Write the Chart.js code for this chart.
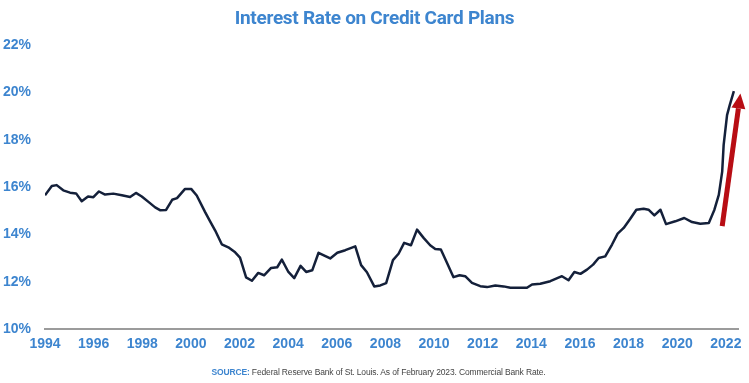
<html><head>
<meta charset="UTF-8">
<title>Interest Rate on Credit Card Plans</title>
<script src="https://cdn.jsdelivr.net/npm/chart.js"></script>
<style>
* { margin: 0; padding: 0; box-sizing: border-box; }
body { background: #fff; width: 749px; height: 383px; overflow: hidden; position: relative; font-family: 'Liberation Sans', Arial, sans-serif; }
.title {
  position: absolute; top: 6px; left: 0; width: 749px; text-align: center;
  font-family: 'Liberation Sans Narrow', 'Roboto', sans-serif;
  font-weight: bold; font-size: 19px; color: #3d85cf; letter-spacing: -0.3px;
}
.chart-box { position: absolute; left: 0; top: 0; width: 749px; height: 383px; }
.source {
  position: absolute; top: 367px; left: 4px; width: 749px; text-align: center;
  font-family: 'Liberation Sans Narrow', 'Liberation Sans', sans-serif;
  font-size: 8.5px; color: #444; letter-spacing: -0.15px;
}
.source b { color: #3d85cf; }
</style>
</head>
<body>
<div class="chart-box"><canvas id="rateChart" width="749" height="383"></canvas></div>
<div class="title">Interest Rate on Credit Card Plans</div>
<div class="source"><b>SOURCE:</b> Federal Reserve Bank of St. Louis. As of February 2023. Commercial Bank Rate.</div>

<script>
// (decimal years, percent)
const years = [1994.00,1994.28,1994.48,1994.75,1995.03,1995.28,1995.51,1995.77,1995.99,1996.22,1996.47,1996.81,1997.16,1997.50,1997.74,1997.98,1998.28,1998.53,1998.73,1998.98,1999.23,1999.43,1999.76,2000.01,2000.24,2000.58,2000.79,2001.00,2001.27,2001.54,2001.82,2002.02,2002.27,2002.51,2002.77,2003.01,2003.30,2003.55,2003.74,2004.01,2004.25,2004.51,2004.74,2004.99,2005.25,2005.49,2005.73,2006.02,2006.35,2006.76,2007.00,2007.24,2007.54,2007.79,2008.03,2008.31,2008.54,2008.77,2009.05,2009.30,2009.57,2009.84,2010.05,2010.28,2010.53,2010.80,2011.05,2011.28,2011.56,2011.90,2012.18,2012.52,2012.86,2013.14,2013.41,2013.82,2014.03,2014.37,2014.78,2015.26,2015.53,2015.77,2016.02,2016.29,2016.54,2016.77,2017.04,2017.32,2017.55,2017.80,2018.07,2018.32,2018.62,2018.82,2019.06,2019.31,2019.54,2019.92,2020.29,2020.61,2020.95,2021.30,2021.53,2021.71,2021.85,2021.91,2022.05,2022.16,2022.33];
const rates = [15.65,16.04,16.08,15.86,15.76,15.73,15.40,15.60,15.57,15.81,15.68,15.72,15.65,15.58,15.75,15.60,15.35,15.14,15.02,15.03,15.46,15.53,15.92,15.92,15.64,14.95,14.55,14.16,13.58,13.45,13.24,13.02,12.18,12.04,12.37,12.27,12.58,12.61,12.93,12.41,12.15,12.67,12.41,12.48,13.22,13.10,12.98,13.22,13.33,13.49,12.70,12.40,11.80,11.84,11.94,12.91,13.18,13.64,13.54,14.20,13.85,13.54,13.38,13.36,12.80,12.19,12.27,12.23,11.95,11.81,11.77,11.84,11.80,11.74,11.74,11.74,11.88,11.91,12.02,12.23,12.06,12.41,12.33,12.51,12.72,13.00,13.07,13.57,14.03,14.27,14.66,15.04,15.08,15.04,14.80,15.04,14.43,14.55,14.69,14.52,14.45,14.48,15.04,15.67,16.65,17.78,19.04,19.46,20.05];
const xTicks = [1994,1996,1998,2000,2002,2004,2006,2008,2010,2012,2014,2016,2018,2020,2022];
const yTicks = [10,12,14,16,18,20,22];
// red arrow: [year, rate] start and tip
const arrowFrom = [2021.85, 14.35];
const arrowTo = [2022.6, 19.95];

const blue = '#3d85cf';
const tickFont = { family: "'Liberation Sans', Arial, sans-serif", size: 14, weight: 'bold' };

const arrowPlugin = {
  id: 'redArrow',
  afterDatasetsDraw(chart) {
    const { ctx, scales: { x, y } } = chart;
    const x0 = x.getPixelForValue(arrowFrom[0]), y0 = y.getPixelForValue(arrowFrom[1]);
    const x1 = x.getPixelForValue(arrowTo[0]), y1 = y.getPixelForValue(arrowTo[1]);
    const ang = Math.atan2(y1 - y0, x1 - x0);
    const headLen = 15, headW = 7;
    const bx = x1 - headLen * Math.cos(ang), by = y1 - headLen * Math.sin(ang);
    ctx.save();
    ctx.strokeStyle = '#b80d14';
    ctx.fillStyle = '#b80d14';
    ctx.lineWidth = 5;
    ctx.beginPath();
    ctx.moveTo(x0, y0);
    ctx.lineTo(bx, by);
    ctx.stroke();
    ctx.beginPath();
    ctx.moveTo(x1, y1);
    ctx.lineTo(bx + headW * Math.sin(ang), by - headW * Math.cos(ang));
    ctx.lineTo(bx - headW * Math.sin(ang), by + headW * Math.cos(ang));
    ctx.closePath();
    ctx.fill();
    ctx.restore();
  }
};

new Chart(document.getElementById('rateChart'), {
  type: 'line',
  data: {
    datasets: [{
      data: years.map((yr, i) => ({ x: yr, y: rates[i] })),
      borderColor: '#14203a',
      borderWidth: 2.5,
      pointRadius: 0,
      tension: 0,
      borderJoinStyle: 'round'
    }]
  },
  options: {
    responsive: false,
    animation: false,
    layout: { padding: { top: 45, right: 11, bottom: 24, left: 0 } },
    plugins: { legend: { display: false }, tooltip: { enabled: false } },
    scales: {
      x: {
        type: 'linear',
        min: 1994,
        max: 2022.5,
        afterBuildTicks: s => { s.ticks = xTicks.map(v => ({ value: v })); },
        afterFit: s => { s.height = 30; },
        grid: { display: false, drawTicks: false },
        border: { display: true, color: '#9b9b9b', width: 2 },
        ticks: { color: blue, font: tickFont, padding: 7, autoSkip: false, maxRotation: 0, callback: v => String(v) }
      },
      y: {
        min: 10,
        max: 22,
        afterBuildTicks: s => { s.ticks = yTicks.map(v => ({ value: v })); },
        afterFit: s => { s.width = 45; },
        grid: { display: false, drawTicks: false },
        border: { display: false },
        ticks: { color: blue, font: tickFont, padding: 14, callback: v => v + '%' }
      }
    }
  },
  plugins: [arrowPlugin]
});
</script>
</body></html>
